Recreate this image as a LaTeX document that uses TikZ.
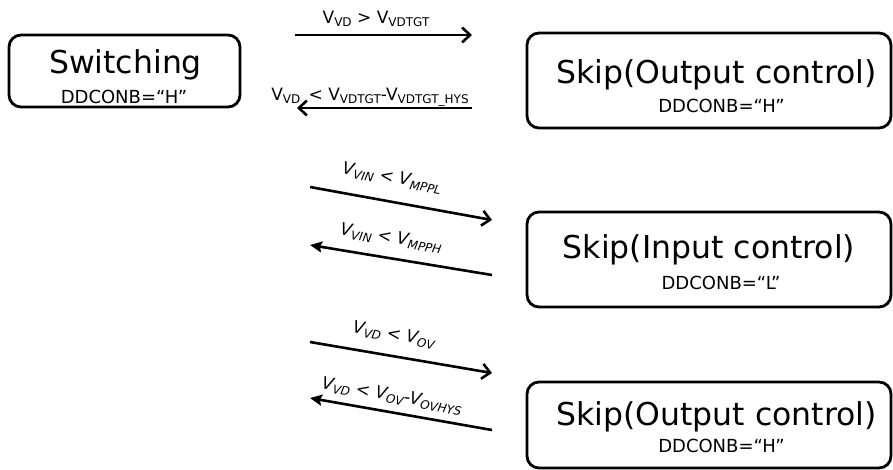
\documentclass[tikz,border=0pt]{standalone}
\usepackage{fontspec}
\setmainfont{DejaVu Sans}
\usetikzlibrary{arrows.meta}
\newcommand{\sbs}[1]{\raisebox{-0.35ex}{\fontsize{12}{12}\selectfont #1}}
\tikzset{
  box/.style={draw, line width=2.8pt, rounded corners=12pt, inner sep=0pt},
  title/.style={inner sep=0pt, anchor=base, font=\fontsize{31.5}{31.5}\selectfont},
  sub/.style={inner sep=0pt, anchor=base, font=\fontsize{18}{18}\selectfont},
  lbl/.style={inner sep=0pt, font=\fontsize{17}{17}\selectfont},
  fwd/.style={line width=2.6pt, -{Straight Barb[length=8pt,width=15pt]}},
  bwd/.style={line width=2.6pt, -{Stealth[length=12pt,width=11pt,inset=2pt]}},
  bwdbarb/.style={line width=2.6pt, -{Straight Barb[length=8pt,width=15pt]}}
}
\begin{document}
\begin{tikzpicture}[x=1pt,y=-1pt]
\useasboundingbox (0,0) rectangle (893,469);
\clip (0,0) rectangle (893,469);
% boxes
\node[box, minimum width=231pt, minimum height=72pt] (sw) at (124.5,71) {};
\node[box, minimum width=364pt, minimum height=95pt] (so1) at (709,80.5) {};
\node[box, minimum width=364pt, minimum height=95pt] (si) at (709,259.5) {};
\node[box, minimum width=364pt, minimum height=86pt] (so2) at (709,425) {};
% box texts
\node[title] (swt) at (125.5,73) {Switching};
\node[sub] (sws) at (124,103) {DDCONB=“H”};
\node[title] (so1t) at (716.5,83) {Skip(Output control)};
\node[sub] (so1s) at (721.5,112) {DDCONB=“H”};
\node[title] (sit) at (709,258) {Skip(Input control)};
\node[sub] (sis) at (721,289) {DDCONB=“L”};
\node[title] (so2t) at (716.5,425) {Skip(Output control)};
\node[sub] (so2s) at (721.5,452) {DDCONB=“H”};
% arrow end points
\coordinate (a1s) at (295,35);  \coordinate (a1e) at (472,35);
\coordinate (a2s) at (472,108); \coordinate (a2e) at (297,108);
\coordinate (a3s) at (310,187); \coordinate (a3e) at (492,220);
\coordinate (a4s) at (492,275); \coordinate (a4e) at (310,245);
\coordinate (a5s) at (310,342); \coordinate (a5e) at (492,373);
\coordinate (a6s) at (492,430); \coordinate (a6e) at (310,398);
\draw[fwd] (a1s) -- (a1e);
\draw[bwdbarb] (a2s) -- (a2e);
\draw[fwd] (a3s) -- (a3e);
\draw[bwd] (a4s) -- (a4e);
\draw[fwd] (a5s) -- (a5e);
\draw[bwd] (a6s) -- (a6e);
% labels
\node[lbl, anchor=base] (l1) at (376,23) {V\sbs{VD} > V\sbs{VDTGT}};
\node[lbl, anchor=base] (l2) at (370,100) {V\sbs{VD}\, < V\sbs{VDTGT}-V\sbs{VDTGT\_HYS}};
\node[lbl, rotate=-10.3] (l3) at (392,178) {\itshape V\sbs{VIN} < V\sbs{MPPL}};
\node[lbl, rotate=-9.5] (l4) at (391,238) {\itshape V\sbs{VIN} < V\sbs{MPPH}};
\node[lbl, rotate=-9.7] (l5) at (394,335) {\itshape V\sbs{VD} < V\sbs{OV}};
\node[lbl, rotate=-10] (l6) at (392,396) {\itshape V\sbs{VD} < V\sbs{OV}-V\sbs{OVHYS}};
\end{tikzpicture}
\end{document}
